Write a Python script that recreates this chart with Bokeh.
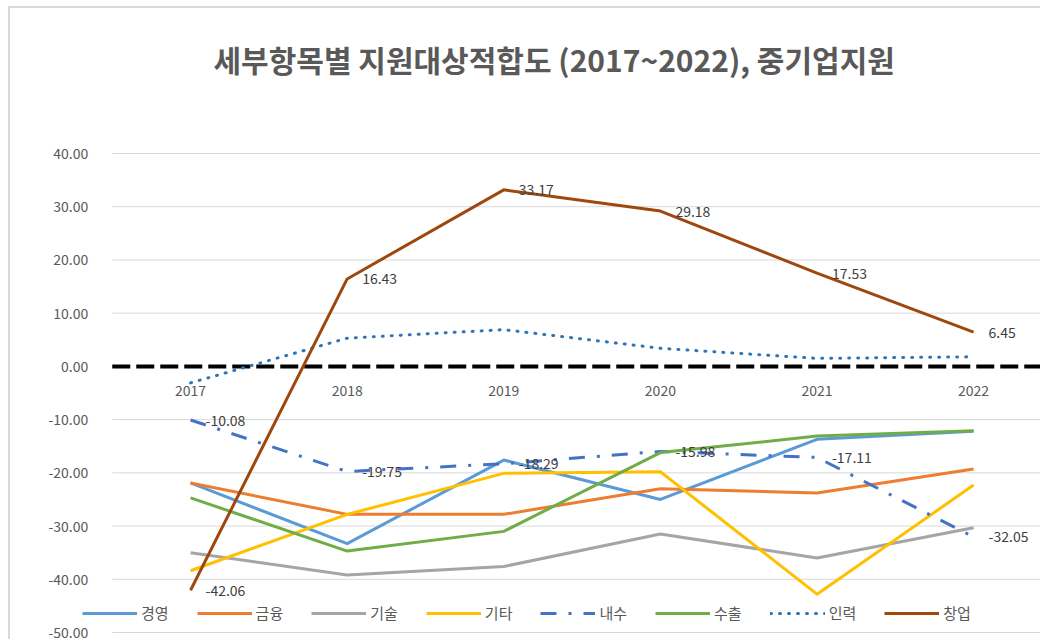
from bokeh.plotting import figure
from bokeh.models import Range1d, Title
from bokeh.core.properties import value
from bokeh.embed import file_html
from bokeh.resources import INLINE

# ---- data ----
years = ["2017", "2018", "2019", "2020", "2021", "2022"]
gyeongyeong = [-21.9, -33.3, -17.6, -25.0, -13.7, -12.2]   # 경영
geumyung = [-21.9, -27.8, -27.8, -23.0, -23.8, -19.3]      # 금융
gisul = [-35.0, -39.2, -37.6, -31.5, -36.0, -30.3]         # 기술
gita = [-38.4, -27.8, -20.1, -19.8, -42.8, -22.3]          # 기타
naesu = [-10.08, -19.75, -18.29, -15.98, -17.11, -32.05]   # 내수
suchul = [-24.7, -34.7, -31.0, -16.2, -13.1, -12.1]        # 수출
inryeok = [-3.1, 5.3, 6.9, 3.4, 1.5, 1.8]                  # 인력
changeop = [-42.06, 16.43, 33.17, 29.18, 17.53, 6.45]      # 창업
y_ticks = [-50, -40, -30, -20, -10, 0, 10, 20, 30, 40]
y_tick_labels = [f"{t:.2f}" for t in y_ticks]

title = "세부항목별 지원대상적합도 (2017~2022), 중기업지원"
FONT = "Noto Sans CJK KR"
GRAY = "#595959"

idx = list(range(len(years)))
X_LEFT = -0.5          # plot-area left edge (category axis start)
X_END = 5.44
grid_ticks = [t for t in y_ticks if t != 0]

p = figure(width=1032, height=633, output_backend="svg", toolbar_location=None,
           title=None, x_axis_location=None, y_axis_location=None,
           x_range=Range1d(-1.054, X_END), y_range=Range1d(-51.69, 41.5),
           min_border_left=15, min_border_right=0, min_border_top=137, min_border_bottom=0)
p.styles = {"margin-left": "8px", "margin-top": "6px",
            "border-left": "2px solid #d9d9d9", "border-top": "2px solid #d9d9d9"}
p.outline_line_color = None
p.xgrid.visible = False
p.ygrid.visible = False

# spacer between title and plot area, then the title itself
p.add_layout(Title(text=" ", text_font_size="1px", standoff=62), "above")
p.add_layout(Title(text=title, text_font=FONT, text_font_size="30px",
                   text_font_style="bold", text_color=GRAY, align="left",
                   vertical_align="bottom", offset=188, standoff=0), "above")

# value-axis gridlines and labels
p.segment(x0=[X_LEFT] * len(grid_ticks), x1=[X_END] * len(grid_ticks),
          y0=grid_ticks, y1=grid_ticks, line_color="#d9d9d9", line_width=1)
p.text([X_LEFT] * len(y_ticks), y_ticks, text=y_tick_labels, text_align="right",
       text_baseline="middle", x_offset=-24, text_font=value(FONT),
       text_font_size="14px", text_color=GRAY)

# zero line (category axis)
p.segment(x0=[X_LEFT], x1=[X_END], y0=[0], y1=[0], line_color="black",
          line_width=4, line_dash="18 6")

series = [
    ("경영", gyeongyeong, "#5B9BD5", "solid", "butt"),
    ("금융", geumyung, "#ED7D31", "solid", "butt"),
    ("기술", gisul, "#A5A5A5", "solid", "butt"),
    ("기타", gita, "#FFC000", "solid", "butt"),
    ("내수", naesu, "#4472C4", "16 12 3 12", "butt"),
    ("수출", suchul, "#70AD47", "solid", "butt"),
    ("인력", inryeok, "#2E75B6", "1 8", "round"),
    ("창업", changeop, "#9E480E", "solid", "butt"),
]
for name, vals, col, dash, cap in series:
    p.line(idx, vals, line_color=col, line_width=3, line_dash=dash, line_cap=cap,
           line_join="round", legend_label=name)

# year labels under zero line
p.text(idx, [0] * len(idx), text=years, text_align="center", text_baseline="middle",
       y_offset=24, text_font=value(FONT), text_font_size="14px", text_color=GRAY)

# data labels
for vals in (naesu, changeop):
    p.text(idx, vals, text=[f"{v:.2f}" for v in vals], text_align="left",
           text_baseline="middle", x_offset=15, text_font=value(FONT),
           text_font_size="14px", text_color="#404040")

lg = p.legend[0]
lg.orientation = "horizontal"
lg.location = (57, 18)
lg.glyph_width = 55
lg.glyph_height = 20
lg.label_standoff = 4
lg.spacing = 28
lg.padding = 0
lg.margin = 0
lg.background_fill_alpha = 0
lg.border_line_alpha = 0
lg.label_text_font = FONT
lg.label_text_font_size = "15px"
lg.label_text_color = GRAY

open("out.html", "w").write(file_html(p, INLINE))
